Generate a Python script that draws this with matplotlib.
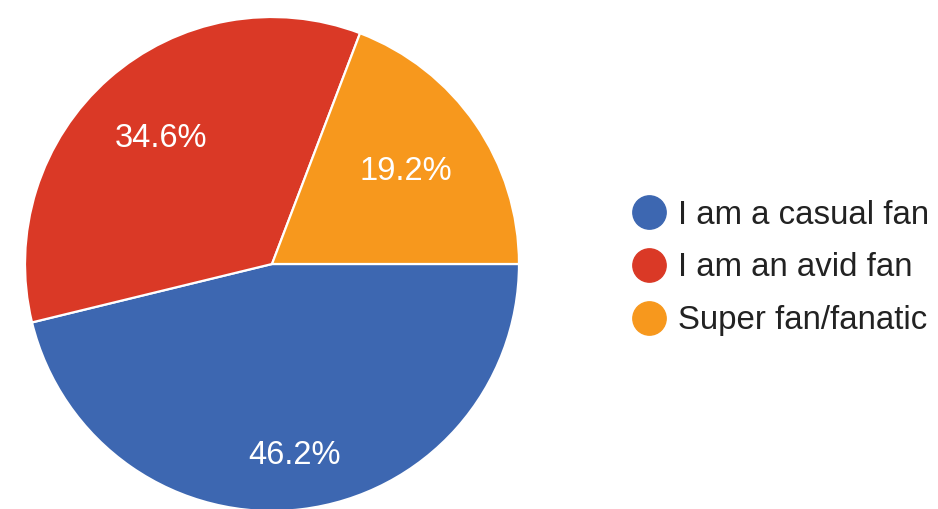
import matplotlib
matplotlib.use("Agg")
import matplotlib.pyplot as plt
from matplotlib.lines import Line2D
import numpy as np

categories = ["I am a casual fan", "I am an avid fan", "Super fan/fanatic"]
values = [46.2, 34.6, 19.2]
colors = ["#3d67b1", "#da3926", "#f7981d"]
label_dist = [0.78, 0.68, 0.66]

plt.rcParams['font.family'] = ['Liberation Sans', 'DejaVu Sans']

W, H = 938, 509
fig = plt.figure(figsize=(W / 100, H / 100), dpi=100)
ax = fig.add_axes([0, 0, 1, 1])

cx, cy, R = 272, 264, 247  # pixel center (from top) and radius

wedges, texts, autotexts = ax.pie(
    values, colors=colors, startangle=0, counterclock=False,
    autopct=lambda p: f"{p:.1f}%",
    wedgeprops=dict(edgecolor="white", linewidth=1.6),
    textprops=dict(color="white", fontsize=23.5),
)

for w, t, d in zip(wedges, autotexts, label_dist):
    ang = np.deg2rad((w.theta1 + w.theta2) / 2)
    t.set_position((d * np.cos(ang), d * np.sin(ang)))
    t.set_ha("center")
    t.set_va("center")

ax.set_xlim(-cx / R, (W - cx) / R)
ax.set_ylim(-(H - cy) / R, cy / R)
ax.set_aspect("equal", adjustable="box")
ax.axis("off")

handles = [Line2D([], [], marker="o", linestyle="none", markersize=24,
                  markerfacecolor=c, markeredgecolor=c) for c in colors]
leg = fig.legend(handles, categories, loc="center left",
                 bbox_to_anchor=(632 / W, 1 - 268 / H),
                 frameon=False, fontsize=23.8, handlelength=1.0,
                 handletextpad=0.4, labelspacing=0.66, borderpad=0,
                 borderaxespad=0)
for t in leg.get_texts():
    t.set_color("#222222")

fig.savefig("out.png", dpi=100)
